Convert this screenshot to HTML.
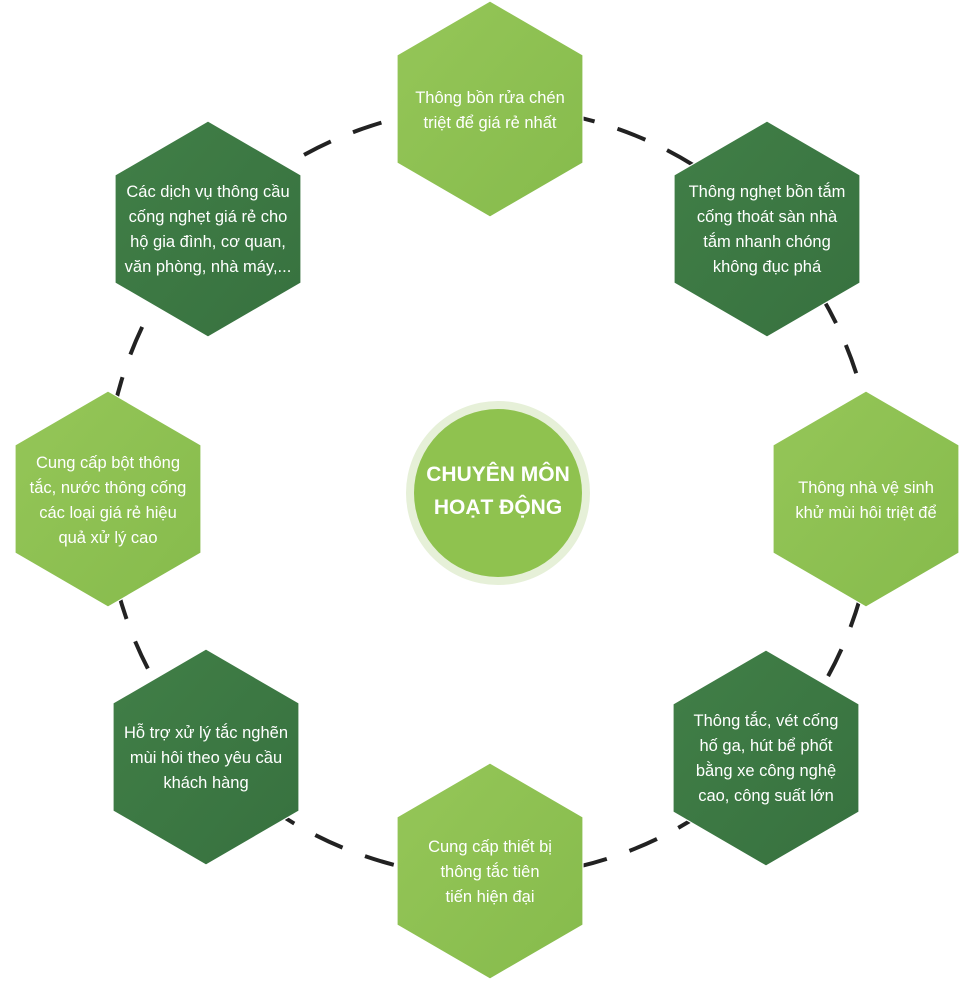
<!DOCTYPE html>
<html><head><meta charset="utf-8"><style>
html,body{margin:0;padding:0;background:#fff;width:976px;height:981px;overflow:hidden}
svg{display:block}
text{font-family:"Liberation Sans",sans-serif;fill:#fff}
</style></head><body>
<svg width="976" height="981" viewBox="0 0 976 981" xmlns="http://www.w3.org/2000/svg">
<defs>
<linearGradient id="lg" x1="0" y1="0" x2="1" y2="1"><stop offset="0" stop-color="#95c658"/><stop offset="1" stop-color="#86bb4c"/></linearGradient>
<linearGradient id="dg" x1="0" y1="0" x2="1" y2="1"><stop offset="0" stop-color="#417f47"/><stop offset="1" stop-color="#37713f"/></linearGradient>
</defs>
<circle cx="490" cy="492" r="385" fill="none" stroke="#222" stroke-width="4" stroke-dasharray="30 24"/>
<g stroke="#fff" stroke-width="1.2">
<polygon fill="url(#lg)" transform="translate(490,109)" points="0,-108 93,-54 93,54 0,108 -93,54 -93,-54"/>
<polygon fill="url(#dg)" transform="translate(767,229)" points="0,-108 93,-54 93,54 0,108 -93,54 -93,-54"/>
<polygon fill="url(#lg)" transform="translate(866,499)" points="0,-108 93,-54 93,54 0,108 -93,54 -93,-54"/>
<polygon fill="url(#dg)" transform="translate(766,758)" points="0,-108 93,-54 93,54 0,108 -93,54 -93,-54"/>
<polygon fill="url(#lg)" transform="translate(490,871)" points="0,-108 93,-54 93,54 0,108 -93,54 -93,-54"/>
<polygon fill="url(#dg)" transform="translate(206,757)" points="0,-108 93,-54 93,54 0,108 -93,54 -93,-54"/>
<polygon fill="url(#lg)" transform="translate(108,499)" points="0,-108 93,-54 93,54 0,108 -93,54 -93,-54"/>
<polygon fill="url(#dg)" transform="translate(208,229)" points="0,-108 93,-54 93,54 0,108 -93,54 -93,-54"/>
</g>
<circle cx="498" cy="493" r="92" fill="#e6f0d8"/>
<circle cx="498" cy="493" r="84" fill="#8fc24f"/>
<g font-size="16.5" text-anchor="middle">
<text x="490" y="103">Thông bồn rửa chén</text>
<text x="490" y="128">triệt để giá rẻ nhất</text>
<text x="767" y="197">Thông nghẹt bồn tắm</text>
<text x="767" y="222">cống thoát sàn nhà</text>
<text x="767" y="247">tắm nhanh chóng</text>
<text x="767" y="272">không đục phá</text>
<text x="866" y="493">Thông nhà vệ sinh</text>
<text x="866" y="518">khử mùi hôi triệt để</text>
<text x="766" y="726">Thông tắc, vét cống</text>
<text x="766" y="751">hố ga, hút bể phốt</text>
<text x="766" y="776">bằng xe công nghệ</text>
<text x="766" y="801">cao, công suất lớn</text>
<text x="490" y="852">Cung cấp thiết bị</text>
<text x="490" y="877">thông tắc tiên</text>
<text x="490" y="902">tiến hiện đại</text>
<text x="206" y="738">Hỗ trợ xử lý tắc nghẽn</text>
<text x="206" y="763">mùi hôi theo yêu cầu</text>
<text x="206" y="788">khách hàng</text>
<text x="108" y="468">Cung cấp bột thông</text>
<text x="108" y="493">tắc, nước thông cống</text>
<text x="108" y="518">các loại giá rẻ hiệu</text>
<text x="108" y="543">quả xử lý cao</text>
<text x="208" y="197">Các dịch vụ thông cầu</text>
<text x="208" y="222">cống nghẹt giá rẻ cho</text>
<text x="208" y="247">hộ gia đình, cơ quan,</text>
<text x="208" y="272">văn phòng, nhà máy,...</text>
</g>
<g font-size="21" font-weight="bold" text-anchor="middle">
<text x="498" y="481">CHUYÊN MÔN</text>
<text x="498" y="514">HOẠT ĐỘNG</text>
</g>
</svg>
</body></html>
